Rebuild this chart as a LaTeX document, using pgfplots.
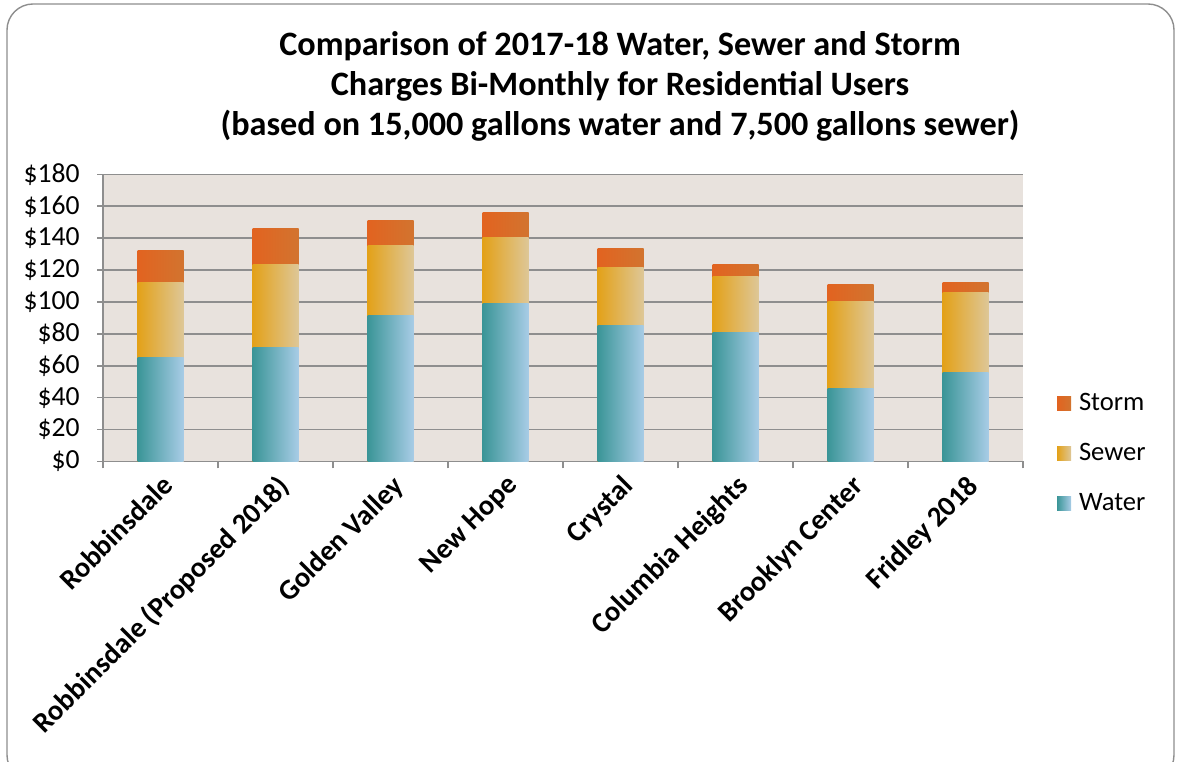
\documentclass[border=0pt]{standalone}
\usepackage{pgfplots}
\pgfplotsset{compat=1.18}
\usepackage{fontspec}
\setmainfont{Carlito}
\definecolor{waterL}{HTML}{3A9597}
\definecolor{waterR}{HTML}{A8CCE6}
\definecolor{sewerL}{HTML}{E3A118}
\definecolor{sewerR}{HTML}{DEC797}
\definecolor{stormL}{HTML}{E26320}
\definecolor{stormR}{HTML}{D2742F}
\definecolor{plotbg}{HTML}{E8E2DD}
\definecolor{gridc}{HTML}{8E8E8E}
% #1 = category position, #2 = top of Water, #3 = top of Sewer, #4 = top of Storm (stack tops)
\newcommand{\stackbar}[4]{%
  \addplot[forget plot, draw=none, bar shift=0pt, left color=stormL, right color=stormR] coordinates {(#1,#4)};
  \addplot[forget plot, draw=none, bar shift=0pt, left color=sewerL, right color=sewerR] coordinates {(#1,#3)};
  \addplot[forget plot, draw=none, bar shift=0pt, left color=waterL, right color=waterR] coordinates {(#1,#2)};
}
\begin{document}
\begin{tikzpicture}
\useasboundingbox (0,0) rectangle (589pt,380.5pt);
\draw[gridc, line width=0.7pt, rounded corners=13pt] (3.5pt,-10pt) rectangle (587pt,378.5pt);
\node[font=\bfseries\fontsize{17.1}{20}\selectfont, align=center] at (310pt,337.5pt)
  {Comparison of 2017-18 Water, Sewer and Storm\\Charges Bi-Monthly for Residential Users\\(based on 15,000 gallons water and 7,500 gallons sewer)};
\begin{axis}[
  at={(51.5pt,149.8pt)}, anchor=south west,
  scale only axis, width=460pt, height=143.5pt,
  ybar, bar width=0.4,
  xmin=-0.5, xmax=7.5, ymin=0, ymax=180,
  ytick={0,20,...,180},
  xtick={0,...,7},
  xticklabels={Robbinsdale, Robbinsdale (Proposed 2018), Golden Valley, New Hope, Crystal, Columbia Heights, Brooklyn Center, Fridley 2018},
  minor xtick={-0.5,0.5,...,7.5},
  axis x line*=bottom, axis y line*=left,
  axis line style={gridc, line width=0.8pt},
  axis background/.style={fill=plotbg},
  ymajorgrids, grid style={gridc, line width=0.8pt},
  tick align=outside,
  major tick length=3pt, minor tick length=3.5pt,
  major x tick style={draw=none},
  minor x tick style={gridc, line width=0.8pt},
  major y tick style={gridc, line width=0.8pt},
  /pgf/number format/assume math mode=true,
  yticklabel={\$\pgfmathprintnumber{\tick}},
  yticklabel style={font=\fontsize{13.8}{15}\selectfont, inner sep=1pt, xshift=-7.5pt},
  xticklabel style={font=\bfseries\fontsize{14.3}{16}\selectfont, rotate=45, anchor=north east, inner sep=2pt},
  legend style={at={(1.03,0.028)}, anchor=west, draw=none, fill=none,
    font=\fontsize{13.3}{15}\selectfont, row sep=11pt},
  legend cell align=left,
  legend image code/.code={\fill[#1, draw=none] (0pt,-3.5pt) rectangle (7pt,3.5pt);},
]
\addlegendimage{draw=none, left color=stormL, right color=stormR}
\addlegendentry{\hspace{2pt}Storm}
\addlegendimage{draw=none, left color=sewerL, right color=sewerR}
\addlegendentry{\hspace{2pt}Sewer}
\addlegendimage{draw=none, left color=waterL, right color=waterR}
\addlegendentry{\hspace{2pt}Water}
\stackbar{0}{65.0}{112.5}{132.5}
\stackbar{1}{71.7}{123.8}{146.3}
\stackbar{2}{91.4}{135.7}{151.4}
\stackbar{3}{99.3}{140.7}{155.8}
\stackbar{4}{85.1}{121.9}{133.8}
\stackbar{5}{81.1}{116.2}{123.8}
\stackbar{6}{46.0}{100.6}{111.2}
\stackbar{7}{56.0}{106.2}{112.5}
\end{axis}
\end{tikzpicture}
\end{document}
